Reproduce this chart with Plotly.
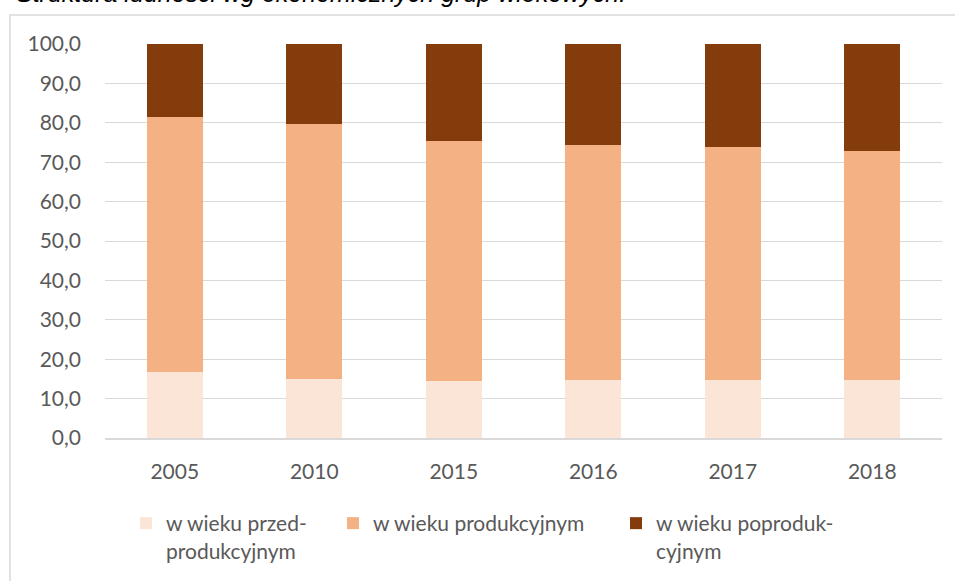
import plotly.graph_objects as go

years = ["2005", "2010", "2015", "2016", "2017", "2018"]
pre = [16.7, 15.0, 14.5, 14.6, 14.7, 14.8]
prod = [64.7, 64.6, 60.9, 59.8, 59.1, 58.1]
post = [18.6, 20.4, 24.6, 25.6, 26.2, 27.1]
names = ["w wieku przed-<br>produkcyjnym", "w wieku produkcyjnym", "w wieku poproduk-<br>cyjnym"]
colors = ["#FBE5D6", "#F4B183", "#843C0C"]
y_ticks = [0, 10, 20, 30, 40, 50, 60, 70, 80, 90, 100]
y_labels = [("%.1f" % v).replace(".", ",") for v in y_ticks]
title_text = "Struktura ludności wg ekonomicznych grup wiekowych."

W, H = 955, 581
L, R, T, B = 105, 13, 44, 143
pw = W - L - R
ph = H - T - B

def px_x(p):
    return (p - L) / pw

def px_y(p):
    return (H - B - p) / ph

FONT = "Lato, Open Sans, sans-serif"
FS = 21
TXT = "#595959"

fig = go.Figure()
series = [pre, prod, post]
legs = ["legend", "legend2", "legend3"]
for i in range(3):
    fig.add_trace(go.Bar(
        x=years, y=series[i], name=names[i],
        marker=dict(color=colors[i], line=dict(width=0)),
        legend=legs[i], showlegend=True,
    ))

leg_common = dict(orientation="h", xanchor="left", yanchor="top",
                  bgcolor="rgba(0,0,0,0)", itemwidth=30, valign="top",
                  font=dict(family=FONT, size=FS, color=TXT),
                  tracegroupgap=0)
leg_x = [126, 333, 616]
leg_y = 503
fig.update_layout(
    width=W, height=H,
    margin=dict(l=L, r=R, t=T, b=B, autoexpand=False),
    paper_bgcolor="white", plot_bgcolor="white",
    barmode="stack", bargap=0.598,
    font=dict(family=FONT, size=FS, color=TXT),
    xaxis=dict(type="category", showgrid=False, showline=True,
               linecolor="#D9D9D9", linewidth=1.5, ticks="",
               tickfont=dict(family=FONT, size=FS, color=TXT),
               ticklabelstandoff=14),
    yaxis=dict(range=[0, 100], tickvals=y_ticks, ticktext=y_labels,
               showgrid=True, gridcolor="#D9D9D9", gridwidth=1,
               zeroline=False, showline=False, ticks="",
               tickfont=dict(family=FONT, size=FS, color=TXT),
               ticklabelstandoff=23),
    legend=dict(x=px_x(leg_x[0]), y=px_y(leg_y), **leg_common),
    legend2=dict(x=px_x(leg_x[1]), y=px_y(leg_y), **leg_common),
    legend3=dict(x=px_x(leg_x[2]), y=px_y(leg_y), **leg_common),
)

# chart-area border
fig.add_shape(type="rect", xref="paper", yref="paper",
              x0=px_x(10), x1=px_x(990), y0=px_y(600), y1=px_y(15),
              line=dict(color="#D9D9D9", width=1.5), fillcolor="rgba(0,0,0,0)",
              layer="below")

# partially visible title (cut off by the top edge, as in the reference)
fig.add_annotation(text="<i>" + title_text + "</i>",
                   xref="paper", yref="paper", x=px_x(628), y=px_y(9),
                   xanchor="right", yanchor="bottom", showarrow=False,
                   font=dict(family="Liberation Sans, Arial, sans-serif", size=25,
                             color="#000000"))

fig.write_html("out.html", config={"displayModeBar": False},
               post_script="document.body.style.margin='0px';")
